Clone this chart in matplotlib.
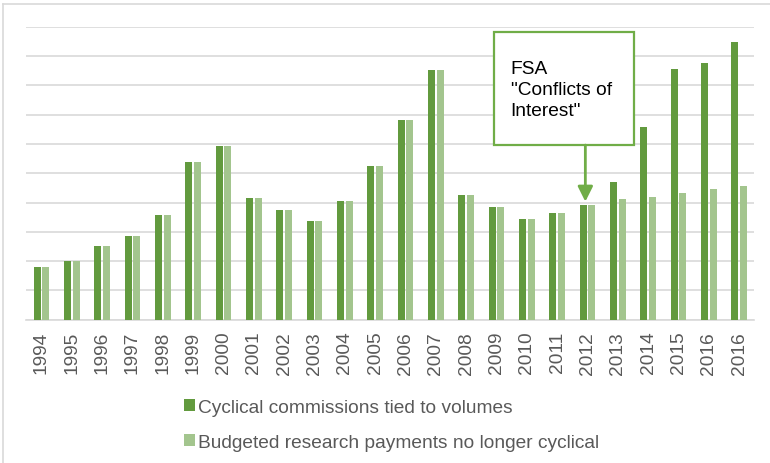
import numpy as np
import matplotlib.pyplot as plt
from matplotlib.patches import Rectangle

# Data (arbitrary units, gridlines every 1)
years = ['1994', '1995', '1996', '1997', '1998', '1999', '2000', '2001',
         '2002', '2003', '2004', '2005', '2006', '2007', '2008', '2009',
         '2010', '2011', '2012', '2013', '2014', '2015', '2016', '2016']
cyclical = [1.80, 2.00, 2.50, 2.87, 3.58, 5.38, 5.92, 4.15,
            3.73, 3.36, 4.04, 5.24, 6.82, 8.52, 4.26, 3.84,
            3.45, 3.63, 3.91, 4.69, 6.57, 8.55, 8.75, 9.49]
budgeted = [1.80, 2.00, 2.50, 2.87, 3.58, 5.38, 5.92, 4.15,
            3.73, 3.36, 4.04, 5.24, 6.82, 8.52, 4.26, 3.84,
            3.45, 3.63, 3.91, 4.11, 4.19, 4.32, 4.45, 4.57]

label_dark = 'Cyclical commissions tied to volumes'
label_light = 'Budgeted research payments no longer cyclical'
note_text = 'FSA\n"Conflicts of\nInterest"'
note_index = 18  # 2012

dark_green = '#629A3E'
light_green = '#A3C58E'
box_green = '#70AD47'
grid_grey = '#D9D9D9'
text_grey = '#595959'

plt.rcParams['font.family'] = ['Liberation Sans', 'DejaVu Sans']

fig = plt.figure(figsize=(7.7, 4.64), dpi=100)
ax = fig.add_axes([0.0342, 0.3088, 0.9454, 0.6315])

x = np.arange(len(years))
w = 0.23
ax.bar(x - 0.14, cyclical, width=w, color=dark_green, label=label_dark, zorder=3)
ax.bar(x + 0.14, budgeted, width=w, color=light_green, label=label_light, zorder=3)

ax.set_xlim(-0.5, len(years) - 0.5)
ax.set_ylim(0, 10)
ax.set_yticks(np.arange(0, 11, 1))
ax.set_yticklabels([])
ax.tick_params(axis='y', length=0)
ax.yaxis.grid(True, color=grid_grey, linewidth=1.2, zorder=0)
ax.set_axisbelow(True)

ax.set_xticks(x)
ax.set_xticklabels(years, rotation=90, fontsize=13.8, color=text_grey)
ax.tick_params(axis='x', length=0, pad=8)

for side in ['top', 'right', 'left']:
    ax.spines[side].set_visible(False)
ax.spines['bottom'].set_color(grid_grey)
ax.spines['bottom'].set_linewidth(1.2)

# annotation box with arrow pointing to 2012
box = Rectangle((14.92, 5.96), 4.62, 3.85, facecolor='white',
                edgecolor=box_green, linewidth=1.6, zorder=5)
ax.add_patch(box)
ax.text(15.47, 8.86, note_text, fontsize=13.8, color='black', va='top',
        ha='left', linespacing=1.3, zorder=6)
ax.annotate('', xy=(note_index - 0.07, cyclical[note_index] + 0.12),
            xytext=(note_index - 0.07, 5.96),
            arrowprops=dict(arrowstyle='-|>,head_width=0.45,head_length=0.9',
                            color=box_green, lw=2, mutation_scale=10,
                            shrinkA=0, shrinkB=0),
            zorder=6)

leg = fig.legend(loc='upper left', bbox_to_anchor=(0.229, 0.155),
                 frameon=False, fontsize=13.8, handlelength=0.6,
                 handleheight=0.6, handletextpad=0.15, labelspacing=0.95,
                 borderaxespad=0)
for t in leg.get_texts():
    t.set_color(text_grey)

# chart area border (top and left visible in the reference)
fig.add_artist(plt.Line2D([0.0035, 1], [0.990, 0.990], color=grid_grey,
                          linewidth=1.2, transform=fig.transFigure))
fig.add_artist(plt.Line2D([0.0035, 0.0035], [0, 0.990], color=grid_grey,
                          linewidth=1.2, transform=fig.transFigure))

fig.savefig('out.png', dpi=100)
